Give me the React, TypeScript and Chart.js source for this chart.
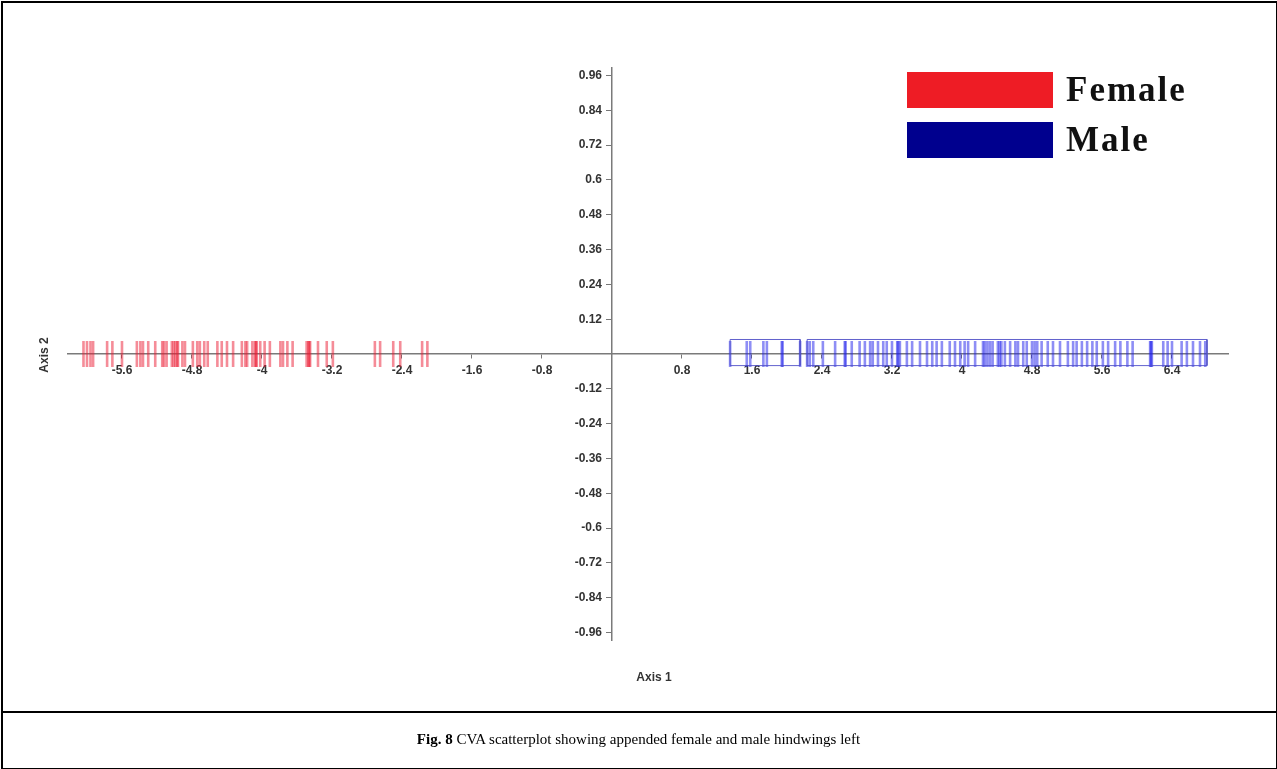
import React, { useEffect, useRef } from "react";
import { Chart, registerables } from "chart.js";

Chart.register(...registerables);

// Canonical variate scores (Axis 1) for each specimen; Axis 2 is zero for two groups.
const femaleScores = [
  -6.04, -6.0, -5.96, -5.93, -5.77, -5.71, -5.6, -5.43, -5.39, -5.36, -5.3, -5.22,
  -5.14, -5.12, -5.09, -5.03, -5.01, -4.99, -4.97, -4.96, -4.91, -4.88, -4.79,
  -4.74, -4.71, -4.66, -4.62, -4.51, -4.46, -4.4, -4.33, -4.23, -4.19, -4.17,
  -4.11, -4.08, -4.07, -4.06, -4.02, -3.97, -3.91, -3.79, -3.76, -3.71, -3.65,
  -3.49, -3.47, -3.46, -3.45, -3.36, -3.26, -3.19, -2.71, -2.65, -2.5, -2.42,
  -2.17, -2.11,
];
const maleScores = [
  1.35, 1.54, 1.58, 1.73, 1.77, 1.94, 1.95, 2.15, 2.23, 2.26, 2.3, 2.41, 2.55,
  2.66, 2.67, 2.74, 2.83, 2.89, 2.95, 2.98, 3.04, 3.1, 3.14, 3.2, 3.26, 3.27,
  3.29, 3.37, 3.43, 3.52, 3.6, 3.66, 3.71, 3.77, 3.86, 3.92, 3.98, 4.03, 4.07,
  4.15, 4.24, 4.26, 4.29, 4.32, 4.35, 4.41, 4.43, 4.45, 4.49, 4.55, 4.61, 4.64,
  4.7, 4.74, 4.8, 4.83, 4.86, 4.91, 4.98, 5.04, 5.12, 5.21, 5.27, 5.31, 5.37,
  5.43, 5.49, 5.54, 5.61, 5.67, 5.75, 5.81, 5.89, 5.95, 6.15, 6.16, 6.17, 6.3,
  6.35, 6.4, 6.51, 6.57, 6.64, 6.72, 6.78,
];
// Outline boxes around the male clusters
const maleHullFrom = [1.35, 2.23];
const maleHullTo = [2.15, 6.8];
const hullTop = 0.05;
const hullBottom = -0.04;

const xTickValues = [-5.6, -4.8, -4, -3.2, -2.4, -1.6, -0.8, 0.8, 1.6, 2.4, 3.2, 4, 4.8, 5.6, 6.4];
const yTickValues = [
  0.96, 0.84, 0.72, 0.6, 0.48, 0.36, 0.24, 0.12,
  -0.12, -0.24, -0.36, -0.48, -0.6, -0.72, -0.84, -0.96,
];
const xRange = [-6.217, 7.04];
const yRange = [-0.986, 0.986];

const seriesNames = ["Female", "Male"];
const legendColors = ["#ee1c25", "#00008e"];

const W = 1277;
const H = 769;
const CANVAS_H = 711;

function ScatterChart() {
  const ref = useRef<HTMLCanvasElement | null>(null);

  useEffect(() => {
    if (!ref.current) return;
    const hullSets = maleHullFrom.map((from, i) => ({
      type: "scatter" as const,
      label: "hull" + i,
      data: [
        { x: from, y: hullTop },
        { x: maleHullTo[i], y: hullTop },
        { x: maleHullTo[i], y: hullBottom },
        { x: from, y: hullBottom },
        { x: from, y: hullTop },
      ],
      showLine: true,
      borderColor: "rgba(80,80,200,0.9)",
      borderWidth: 1,
      pointRadius: 0,
      tension: 0,
      fill: false,
    }));
    const marker = (color: string) => ({
      pointStyle: "line" as const,
      pointRotation: 90,
      pointRadius: 13,
      pointBorderWidth: 2.6,
      pointBorderColor: color,
      pointBackgroundColor: color,
      pointHoverRadius: 13,
    });
    const chart = new Chart(ref.current, {
      type: "scatter",
      data: {
        datasets: [
          ...hullSets,
          {
            label: seriesNames[0],
            data: femaleScores.map((v) => ({ x: v, y: 0 })),
            ...marker("rgba(235,25,50,0.5)"),
          },
          {
            label: seriesNames[1],
            data: maleScores.map((v) => ({ x: v, y: 0 })),
            ...marker("rgba(30,30,235,0.5)"),
          },
        ],
      },
      options: {
        animation: false,
        responsive: false,
        devicePixelRatio: 1,
        layout: { padding: { left: 68, right: 49, top: 68, bottom: 71 } },
        plugins: { legend: { display: false }, tooltip: { enabled: false } },
        scales: {
          x: {
            type: "linear",
            min: xRange[0],
            max: xRange[1],
            position: { y: 0 },
            afterBuildTicks: (scale: any) => {
              scale.ticks = xTickValues.map((v) => ({ value: v }));
            },
            ticks: {
              autoSkip: false,
              maxRotation: 0,
              padding: 5,
              color: "#333",
              font: { family: "Arial, 'Liberation Sans'", size: 12, weight: "bold" },
              callback: (v: any) => String(Number(v)),
            },
            grid: { drawOnChartArea: false, drawTicks: true, tickLength: 4, color: "#777" },
            border: { display: true, color: "#7a7a7a", width: 1.5 },
          },
          y: {
            type: "linear",
            min: yRange[0],
            max: yRange[1],
            position: { x: 0 },
            afterBuildTicks: (scale: any) => {
              scale.ticks = yTickValues.map((v) => ({ value: v }));
            },
            ticks: {
              autoSkip: false,
              color: "#333",
              font: { family: "Arial, 'Liberation Sans'", size: 12, weight: "bold" },
              // trailing gap keeps the right-aligned labels clear of the tick marks
              callback: (v: any) => String(Number(v)) + "   ",
            },
            grid: { drawOnChartArea: false, drawTicks: true, tickLength: 5, color: "#777" },
            border: { display: true, color: "#7a7a7a", width: 1.5 },
          },
        },
      },
    } as any);
    return () => chart.destroy();
  }, []);

  return (
    <canvas
      ref={ref}
      width={W}
      height={CANVAS_H}
      style={{ position: "absolute", left: 0, top: 0, width: W, height: CANVAS_H }}
    />
  );
}

export default function App() {
  const axisFont = "Arial, 'Liberation Sans', sans-serif";
  return (
    <div
      style={{
        position: "fixed",
        left: 0,
        top: 0,
        width: W,
        height: H,
        background: "#fff",
        overflow: "hidden",
      }}
    >
      <ScatterChart />
      {/* legend */}
      {seriesNames.map((name, i) => (
        <div key={name}>
          <div
            style={{
              position: "absolute",
              left: 907,
              top: 72 + i * 50,
              width: 146,
              height: 36,
              background: legendColors[i],
            }}
          />
          <div
            style={{
              position: "absolute",
              left: 1066,
              top: 70 + i * 50,
              height: 40,
              lineHeight: "40px",
              fontFamily: "'Times New Roman', 'Liberation Serif', serif",
              fontWeight: "bold",
              fontSize: 35,
              letterSpacing: 2,
              color: "#111",
            }}
          >
            {name}
          </div>
        </div>
      ))}
      {/* axis titles */}
      <div
        style={{
          position: "absolute",
          left: 654,
          top: 677,
          transform: "translate(-50%, -50%)",
          fontFamily: axisFont,
          fontWeight: "bold",
          fontSize: 12,
          color: "#333",
          whiteSpace: "nowrap",
        }}
      >
        Axis 1
      </div>
      <div
        style={{
          position: "absolute",
          left: 44,
          top: 355,
          transform: "translate(-50%, -50%) rotate(-90deg)",
          fontFamily: axisFont,
          fontWeight: "bold",
          fontSize: 12,
          color: "#333",
          whiteSpace: "nowrap",
        }}
      >
        Axis 2
      </div>
      {/* frame and caption */}
      <div
        style={{
          position: "absolute",
          left: 1,
          top: 1,
          width: W - 4,
          height: H - 4,
          border: "2px solid #000",
          pointerEvents: "none",
        }}
      />
      <div
        style={{
          position: "absolute",
          left: 1,
          top: 711,
          width: W - 2,
          height: 2,
          background: "#000",
        }}
      />
      <div
        style={{
          position: "absolute",
          left: 0,
          top: 729,
          width: W,
          textAlign: "center",
          fontFamily: "'Times New Roman', 'Liberation Serif', serif",
          fontSize: 15,
          color: "#000",
          lineHeight: "20px",
        }}
      >
        <b>Fig. 8</b> CVA scatterplot showing appended female and male hindwings left
      </div>
    </div>
  );
}
